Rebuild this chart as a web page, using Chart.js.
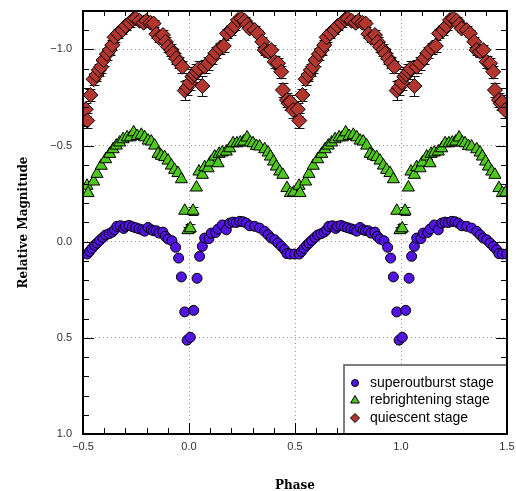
<!DOCTYPE html>
<html>
<head>
<meta charset="utf-8">
<title>Light curves</title>
<script src="https://cdn.jsdelivr.net/npm/chart.js@4.4.0/dist/chart.umd.min.js"></script>
<style>
  html, body { margin: 0; padding: 0; background: #fff; }
  #wrap { width: 516px; height: 491px; }
</style>
</head>
<body>
<div id="wrap"><canvas id="lc" width="516" height="491"></canvas></div>
<script>
// phase-folded light curves, one cycle (-0.5..0.5); plotted twice
const superPhase = [-0.480, -0.469, -0.458, -0.445, -0.434, -0.421, -0.406, -0.393, -0.377, -0.362, -0.351, -0.340, -0.324, -0.308, -0.299, -0.283, -0.267, -0.252, -0.236, -0.220, -0.209, -0.193, -0.178, -0.167, -0.154, -0.142, -0.123, -0.112, -0.099, -0.080, -0.063, -0.049, -0.036, -0.020, -0.009, 0.006, 0.022, 0.038, 0.050, 0.063, 0.074, 0.094, 0.105, 0.126, 0.137, 0.157, 0.176, 0.192, 0.208, 0.223, 0.239, 0.255, 0.270, 0.286, 0.310, 0.333, 0.357, 0.373, 0.388, 0.404, 0.420, 0.436, 0.451, 0.462, 0.478, 0.498];
const superMag = [0.064, 0.050, 0.035, 0.019, 0.007, -0.007, -0.022, -0.035, -0.042, -0.050, -0.062, -0.080, -0.083, -0.069, -0.080, -0.085, -0.078, -0.073, -0.067, -0.062, -0.055, -0.074, -0.062, -0.057, -0.057, -0.045, -0.050, -0.028, -0.014, -0.005, 0.029, 0.085, 0.183, 0.365, 0.512, 0.497, 0.357, 0.190, 0.076, 0.024, -0.019, -0.016, -0.045, -0.048, -0.066, -0.087, -0.062, -0.097, -0.102, -0.100, -0.106, -0.104, -0.097, -0.083, -0.080, -0.071, -0.054, -0.036, -0.019, -0.010, 0.007, 0.024, 0.042, 0.062, 0.064, 0.064];

const rebPhase = [-0.481, -0.476, -0.450, -0.434, -0.414, -0.393, -0.374, -0.358, -0.343, -0.327, -0.311, -0.292, -0.277, -0.261, -0.245, -0.225, -0.209, -0.193, -0.178, -0.162, -0.146, -0.131, -0.115, -0.099, -0.083, -0.068, -0.052, -0.036, -0.020, -0.005, 0.006, 0.019, 0.035, 0.047, 0.063, 0.074, 0.090, 0.101, 0.121, 0.137, 0.142, 0.157, 0.176, 0.192, 0.208, 0.226, 0.242, 0.258, 0.274, 0.289, 0.302, 0.318, 0.333, 0.357, 0.373, 0.384, 0.399, 0.412, 0.428, 0.443, 0.462, 0.478, 0.494];
const rebMag = [-0.291, -0.253, -0.313, -0.353, -0.395, -0.429, -0.457, -0.481, -0.500, -0.516, -0.533, -0.543, -0.543, -0.569, -0.550, -0.556, -0.543, -0.526, -0.521, -0.500, -0.457, -0.447, -0.440, -0.422, -0.396, -0.374, -0.357, -0.325, -0.161, -0.060, -0.070, -0.161, -0.282, -0.365, -0.348, -0.388, -0.382, -0.412, -0.443, -0.408, -0.457, -0.464, -0.469, -0.486, -0.512, -0.512, -0.516, -0.521, -0.542, -0.516, -0.512, -0.498, -0.495, -0.481, -0.464, -0.443, -0.417, -0.391, -0.365, -0.348, -0.279, -0.253, -0.256];
const rebErr = [0, 0, 0, 0, 0, 0, 0, 0, 0, 0, 0, 0, 0, 0, 0, 0, 0, 0, 0, 0, 0, 0, 0, 0, 0, 0, 0, 0, 0, 0.015, 0.02, 0.02, 0, 0, 0, 0, 0, 0, 0, 0, 0, 0, 0, 0, 0, 0, 0, 0, 0, 0, 0, 0, 0, 0, 0, 0, 0, 0, 0, 0, 0, 0, 0];

const quiPhase = [-0.487, -0.480, -0.465, -0.450, -0.437, -0.425, -0.414, -0.403, -0.387, -0.374, -0.362, -0.351, -0.335, -0.314, -0.299, -0.280, -0.264, -0.252, -0.233, -0.214, -0.201, -0.182, -0.167, -0.154, -0.140, -0.123, -0.110, -0.099, -0.083, -0.075, -0.060, -0.047, -0.031, -0.020, -0.009, 0.003, 0.016, 0.025, 0.035, 0.045, 0.063, 0.074, 0.090, 0.110, 0.126, 0.145, 0.164, 0.179, 0.200, 0.215, 0.231, 0.247, 0.263, 0.275, 0.286, 0.310, 0.325, 0.346, 0.357, 0.373, 0.388, 0.404, 0.420, 0.435, 0.443, 0.462, 0.470, 0.478, 0.491];
const quiMag = [-0.689, -0.630, -0.763, -0.845, -0.867, -0.893, -0.910, -0.945, -0.976, -0.997, -1.023, -1.063, -1.083, -1.101, -1.122, -1.139, -1.156, -1.161, -1.149, -1.139, -1.149, -1.139, -1.135, -1.080, -1.060, -1.075, -1.040, -1.014, -0.997, -0.980, -0.954, -0.931, -0.910, -0.786, -0.803, -0.827, -0.858, -0.870, -0.884, -0.900, -0.810, -0.910, -0.928, -0.954, -0.983, -1.006, -1.018, -1.083, -1.101, -1.122, -1.153, -1.161, -1.149, -1.130, -1.109, -1.101, -1.083, -1.040, -0.997, -0.988, -0.997, -0.936, -0.928, -0.884, -0.789, -0.737, -0.720, -0.727, -0.685];
const quiErr = [0.035, 0.04, 0.03, 0.03, 0.03, 0.03, 0.03, 0.03, 0.03, 0.025, 0.025, 0.025, 0.025, 0.02, 0.02, 0.02, 0.02, 0.02, 0.02, 0.02, 0.02, 0.02, 0.02, 0.02, 0.02, 0.025, 0.025, 0.025, 0.03, 0.03, 0.03, 0.03, 0.03, 0.05, 0.04, 0.04, 0.04, 0.04, 0.04, 0.04, 0.05, 0.035, 0.035, 0.03, 0.03, 0.03, 0.03, 0.025, 0.025, 0.02, 0.02, 0.02, 0.02, 0.02, 0.02, 0.02, 0.02, 0.025, 0.025, 0.025, 0.025, 0.03, 0.03, 0.03, 0.035, 0.035, 0.035, 0.035, 0.04];

const xTicks = [-0.5, 0, 0.5, 1, 1.5];
const yTicks = [-1, -0.5, 0, 0.5, 1];
const legendNames = ["superoutburst stage", "rebrightening stage", "quiescent stage"];

// each point shown at phase and phase + 1
function fold(ph, mag, err) {
  const pts = [];
  for (let k = 0; k < 2; k++) {
    ph.forEach((p, i) => pts.push({ x: p + k, y: mag[i], e: err ? err[i] : 0 }));
  }
  return pts;
}

const fmt = (v) => (v < 0 ? "\u2212" : "") + Math.abs(v).toFixed(1);

// no extra room for edge labels, the layout padding decides the plot box
function noPad(s) {
  s.paddingTop = 0;
  s.paddingBottom = 0;
  s.paddingLeft = 0;
  s.paddingRight = 0;
}

const errorBars = {
  id: "errorBars",
  beforeDatasetsDraw(chart) {
    const { ctx, chartArea: a, scales: { x, y } } = chart;
    ctx.save();
    ctx.beginPath();
    ctx.rect(a.left, a.top, a.right - a.left, a.bottom - a.top);
    ctx.clip();
    ctx.strokeStyle = "#111";
    ctx.lineWidth = 1;
    chart.data.datasets.forEach((ds) => {
      ds.data.forEach((p) => {
        if (!p.e) return;
        const px = Math.round(x.getPixelForValue(p.x)) + 0.5;
        const y1 = Math.round(y.getPixelForValue(p.y - p.e)) + 0.5;
        const y2 = Math.round(y.getPixelForValue(p.y + p.e)) + 0.5;
        ctx.beginPath();
        ctx.moveTo(px, y1); ctx.lineTo(px, y2);
        ctx.moveTo(px - 5, y1); ctx.lineTo(px + 5, y1);
        ctx.moveTo(px - 5, y2); ctx.lineTo(px + 5, y2);
        ctx.stroke();
      });
    });
    ctx.restore();
  },
};

function marker(ctx, style, cx, cy, r, fill) {
  ctx.beginPath();
  if (style === "circle") {
    ctx.arc(cx, cy, r, 0, Math.PI * 2);
  } else if (style === "triangle") {
    ctx.moveTo(cx, cy - r);
    ctx.lineTo(cx + r * 0.866, cy + r * 0.5);
    ctx.lineTo(cx - r * 0.866, cy + r * 0.5);
    ctx.closePath();
  } else {
    ctx.moveTo(cx, cy - r);
    ctx.lineTo(cx + r, cy);
    ctx.lineTo(cx, cy + r);
    ctx.lineTo(cx - r, cy);
    ctx.closePath();
  }
  ctx.fillStyle = fill;
  ctx.fill();
  ctx.strokeStyle = "#000";
  ctx.lineWidth = 1;
  ctx.stroke();
}

const frame = {
  id: "frame",
  afterDraw(chart) {
    const { ctx, chartArea: a, scales: { x, y } } = chart;
    ctx.save();
    ctx.strokeStyle = "#000";
    ctx.lineWidth = 1;
    ctx.beginPath();
    // minor / major tick marks pointing inward on all sides
    for (let i = -5; i <= 15; i++) {
      const v = i / 10;
      const px = Math.round(x.getPixelForValue(v)) + 0.5;
      const len = i % 5 === 0 ? 11 : 6;
      ctx.moveTo(px, a.bottom); ctx.lineTo(px, a.bottom - len);
      ctx.moveTo(px, a.top); ctx.lineTo(px, a.top + 5);
    }
    for (let i = -12; i <= 10; i++) {
      const v = i / 10;
      const py = Math.round(y.getPixelForValue(v)) + 0.5;
      const len = i % 5 === 0 ? 11 : 6;
      ctx.moveTo(a.left, py); ctx.lineTo(a.left + len, py);
      ctx.moveTo(a.right, py); ctx.lineTo(a.right - len, py);
    }
    ctx.stroke();

    // legend box in the lower right corner
    const lw = 163, lh = 69;
    const lx = a.right - lw, ly = a.bottom - lh;
    ctx.fillStyle = "#fff";
    ctx.fillRect(lx, ly, lw, lh);
    ctx.strokeStyle = "#555";
    ctx.lineWidth = 1.5;
    ctx.strokeRect(lx, ly, lw, lh);
    const styles = ["circle", "triangle", "rectRot"];
    const sizes = [3.5, 5, 4.5];
    ctx.font = "14px 'Liberation Sans', Arial, sans-serif";
    ctx.textBaseline = "middle";
    chart.data.datasets.forEach((ds, i) => {
      const cy = ly + 18 + i * 17.5;
      marker(ctx, styles[i], lx + 11, cy, sizes[i], ds.backgroundColor);
      ctx.fillStyle = "#000";
      ctx.fillText(ds.label, lx + 26, cy);
    });

    // plot frame
    ctx.strokeStyle = "#000";
    ctx.lineWidth = 2;
    ctx.strokeRect(a.left, a.top, a.right - a.left, a.bottom - a.top);
    ctx.restore();
  },
};

new Chart(document.getElementById("lc"), {
  type: "scatter",
  data: {
    datasets: [
      {
        label: legendNames[0],
        data: fold(superPhase, superMag),
        pointStyle: "circle",
        pointRadius: 5,
        backgroundColor: "#5214e0",
        borderColor: "#000",
        borderWidth: 1,
        clip: 0,
      },
      {
        label: legendNames[1],
        data: fold(rebPhase, rebMag, rebErr),
        pointStyle: "triangle",
        pointRadius: 7,
        backgroundColor: "#4fc81e",
        borderColor: "#000",
        borderWidth: 1,
        clip: 0,
      },
      {
        label: legendNames[2],
        data: fold(quiPhase, quiMag, quiErr),
        pointStyle: "rectRot",
        pointRadius: 7.5,
        backgroundColor: "#b2352e",
        borderColor: "#000",
        borderWidth: 1,
        clip: 0,
      },
    ],
  },
  options: {
    responsive: false,
    animation: false,
    devicePixelRatio: 1,
    layout: { padding: { top: 11, right: 9, left: 0, bottom: 0 } },
    plugins: {
      legend: { display: false },
      tooltip: { enabled: false },
    },
    scales: {
      x: {
        type: "linear",
        min: -0.5,
        max: 1.5,
        afterFit: (s) => { s.height = 57; noPad(s); },
        afterBuildTicks: (s) => { s.ticks = xTicks.map((v) => ({ value: v })); },
        grid: { color: "#999", lineWidth: 1, drawTicks: false },
        border: { display: false, dash: [1, 3] },
        ticks: {
          padding: 6,
          color: "#333",
          font: { family: "'Liberation Sans', Arial, sans-serif", size: 11 },
          callback: (v) => fmt(v),
        },
        title: {
          display: true,
          text: "Phase",
          color: "#000",
          font: { family: "'DejaVu Serif', serif", size: 12, weight: "bold", lineHeight: 1 },
          padding: { top: 0, bottom: -1 },
        },
      },
      y: {
        type: "linear",
        reverse: true,
        min: -1.2,
        max: 1.0,
        afterFit: (s) => { s.width = 83; noPad(s); },
        afterBuildTicks: (s) => { s.ticks = yTicks.map((v) => ({ value: v })); },
        grid: { color: "#999", lineWidth: 1, drawTicks: false },
        border: { display: false, dash: [1, 3] },
        ticks: {
          padding: 11,
          color: "#333",
          font: { family: "'Liberation Sans', Arial, sans-serif", size: 11 },
          callback: (v) => fmt(v),
        },
        title: {
          display: true,
          text: "Relative Magnitude",
          color: "#000",
          font: { family: "'DejaVu Serif', serif", size: 12, weight: "bold", lineHeight: 1 },
          padding: { top: 18, bottom: 0 },
        },
      },
    },
  },
  plugins: [errorBars, frame],
});
</script>
</body>
</html>
